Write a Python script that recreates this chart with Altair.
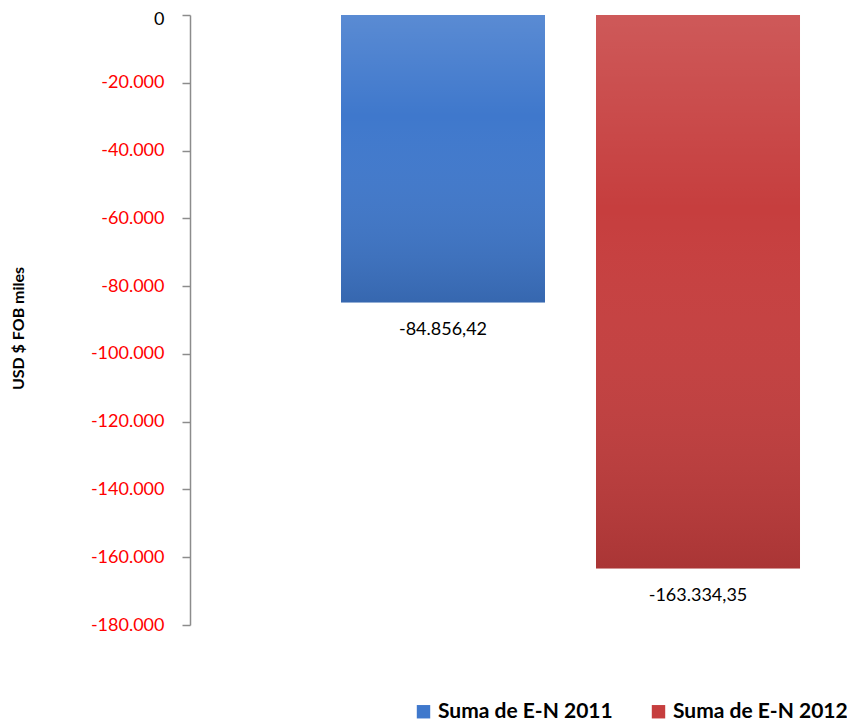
import altair as alt
import pandas as pd

series = ["Suma de E-N 2011", "Suma de E-N 2012"]
values = [-84856.42, -163334.35]
colors = ["#3F78CC", "#C63E3E"]
y_domain = [-180000, 0]
y_ticks = [0, -20000, -40000, -60000, -80000, -100000, -120000, -140000, -160000, -180000]


def es_fmt(v):
    s = f"{v:,.2f}"
    return s.replace(",", "X").replace(".", ",").replace("X", ".")


df = pd.DataFrame({"serie": series, "valor": values, "etiqueta": [es_fmt(v) for v in values]})

FONT = "Lato"

x = alt.X("serie:N", axis=None,
          scale=alt.Scale(domain=series, paddingInner=0.2, paddingOuter=0.3745, align=0.7906))
y = alt.Y("valor:Q",
          scale=alt.Scale(domain=y_domain, nice=False, zero=False),
          axis=alt.Axis(
              title="USD $ FOB miles",
              titleFont=FONT, titleFontSize=16, titleFontWeight="bold", titleColor="black",
              titleAngle=270, titleX=-172, titleY=313, titleAlign="center", titleBaseline="middle",
              values=y_ticks, grid=False,
              domainColor="#8c8c8c", domainWidth=1.5, tickColor="#8c8c8c", tickWidth=1.5, tickSize=8,
              labelFont=FONT, labelFontSize=18, labelPadding=18,
              labelOffset=alt.ExprRef("datum.value == 0 ? 4 : 0"),
              labelColor=alt.ExprRef("datum.value < 0 ? 'red' : 'black'"),
              labelExpr="(datum.value < 0 ? '-' : '') + replace(format(abs(datum.value), ','), ',', '.')",
          ))

bars = alt.Chart(df).mark_bar().encode(
    x=x, y=y, y2=alt.datum(0),
    color=alt.Color("serie:N", scale=alt.Scale(domain=series, range=colors),
                    legend=alt.Legend(
                        title=None, orient="none", direction="horizontal",
                        legendX=223, legendY=686,
                        symbolType="square", symbolSize=180, symbolStrokeWidth=0,
                        labelFont=FONT, labelFontSize=21, labelFontWeight="bold", labelColor="black",
                        labelLimit=400, columnPadding=35, symbolOpacity=1,
                    )),
)

shade = alt.Chart(df).mark_bar(
    color=alt.Gradient(
        gradient="linear", x1=0, x2=0, y1=0, y2=1,
        stops=[alt.GradientStop(color="rgba(255,255,255,0.14)", offset=0),
               alt.GradientStop(color="rgba(255,255,255,0.0)", offset=0.35),
               alt.GradientStop(color="rgba(0,0,0,0.14)", offset=1)],
    )
).encode(x=x, y=y, y2=alt.datum(0))

labels = alt.Chart(df).mark_text(
    font=FONT, fontSize=18, color="black", baseline="middle", dy=27
).encode(x=x, y=y, text="etiqueta:N")

chart = alt.layer(bars, shade, labels).properties(
    width=650, height=610,
    autosize=alt.AutoSizeParams(type="none"),
    padding={"left": 182, "top": 7, "right": 7, "bottom": 101},
).configure_view(stroke=None)

chart.save("out.html", embed_options={"renderer": "svg", "actions": False})
